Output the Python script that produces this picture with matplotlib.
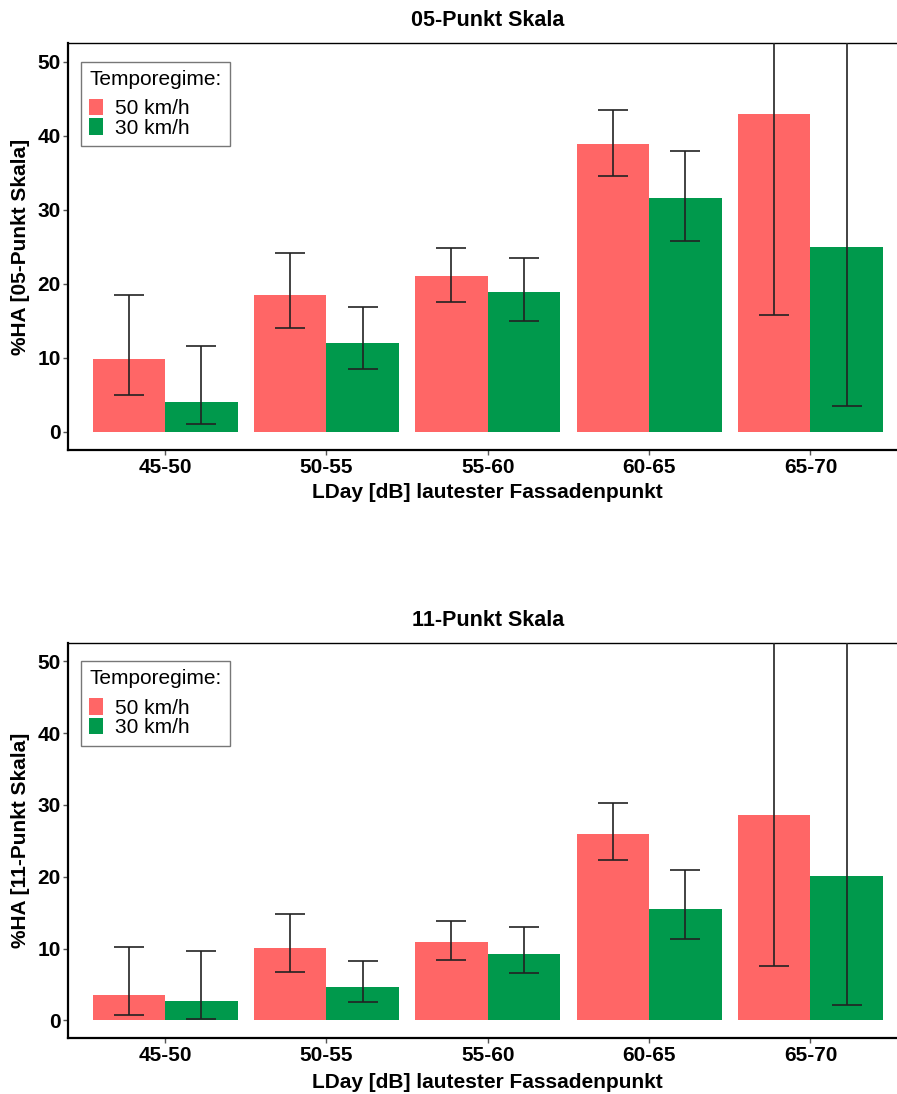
import numpy as np
import matplotlib
matplotlib.use("Agg")
import matplotlib.pyplot as plt
from matplotlib.patches import Patch

plt.rcParams['font.family'] = ['Liberation Sans', 'DejaVu Sans']

categories = ["45-50", "50-55", "55-60", "60-65", "65-70"]
series = ["50 km/h", "30 km/h"]
colors = ["#FF6666", "#00994C"]

# 05-Punkt Skala: value, lower, upper
ha05_50 = [9.8, 18.5, 21.0, 38.9, 42.9]
ha05_50_lo = [4.9, 14.0, 17.5, 34.6, 15.8]
ha05_50_hi = [18.4, 24.2, 24.8, 43.5, 75.0]
ha05_30 = [4.0, 12.0, 18.8, 31.6, 25.0]
ha05_30_lo = [1.0, 8.4, 14.9, 25.8, 3.5]
ha05_30_hi = [11.5, 16.8, 23.4, 38.0, 65.0]

# 11-Punkt Skala
ha11_50 = [3.5, 10.1, 10.9, 26.0, 28.6]
ha11_50_lo = [0.8, 6.8, 8.4, 22.3, 7.6]
ha11_50_hi = [10.2, 14.8, 13.9, 30.2, 70.0]
ha11_30 = [2.7, 4.7, 9.3, 15.5, 20.1]
ha11_30_lo = [0.25, 2.6, 6.6, 11.3, 2.1]
ha11_30_hi = [9.7, 8.3, 13.0, 21.0, 60.0]

W, H = 897, 1094
fig = plt.figure(figsize=(W / 100, H / 100), dpi=100)


def panel(rect, title, ylabel, vals, title_y, xlab_y):
    ax = fig.add_axes(rect)
    x = np.arange(1, len(categories) + 1)
    w = 0.45
    for i, (v, lo, hi) in enumerate(vals):
        v = np.array(v)
        pos = x + (i - 0.5) * w
        ax.bar(pos, v, width=w, color=colors[i], edgecolor='none', zorder=2)
        yerr = np.vstack([v - np.array(lo), np.array(hi) - v])
        ax.errorbar(pos, v, yerr=yerr, fmt='none', ecolor='#222222',
                    elinewidth=1.2, capsize=11, capthick=1.2, zorder=3)
    ax.set_xlim(0.4, 5.6)
    ax.set_ylim(-2.5, 52.5)
    ax.set_xticks(x)
    ax.set_xticklabels(categories)
    ax.set_yticks(range(0, 51, 10))
    for lab in ax.get_xticklabels() + ax.get_yticklabels():
        lab.set_fontweight('bold')
        lab.set_fontsize(15)
        lab.set_color('black')
    ax.tick_params(axis='both', length=3.5, width=1, color='#555555', pad=2)
    ax.spines['left'].set_linewidth(1.6)
    ax.spines['bottom'].set_linewidth(1.6)
    ax.spines['top'].set_linewidth(1.0)
    ax.spines['right'].set_linewidth(1.0)

    handles = [Patch(facecolor=c, edgecolor='none') for c in colors]
    leg = ax.legend(handles, series, title="Temporegime:", loc='upper left',
                    bbox_to_anchor=(0.015, 0.955), fontsize=15,
                    title_fontsize=15, frameon=True, fancybox=False,
                    edgecolor='#777777', framealpha=1, borderpad=0.4,
                    labelspacing=0.0, handlelength=0.65, handleheight=0.85,
                    handletextpad=0.6, borderaxespad=0)
    leg._legend_box.align = 'left'
    leg._legend_box.sep = 7
    leg.get_frame().set_linewidth(1.0)

    cx = rect[0] + rect[2] / 2
    fig.text(cx, title_y, title, ha='center', va='center',
             fontsize=15.5, fontweight='bold')
    fig.text(cx, xlab_y, "LDay [dB] lautester Fassadenpunkt", ha='center',
             va='center', fontsize=15, fontweight='bold')
    fig.text(21 / W, rect[1] + rect[3] / 2, ylabel, ha='center', va='center',
             rotation=90, fontsize=15, fontweight='bold')
    return ax


left = 68.3 / W
width = 839 / W
panel([left, 1 - 450 / H, width, 406.7 / H], "05-Punkt Skala",
      "%HA [05-Punkt Skala]",
      [(ha05_50, ha05_50_lo, ha05_50_hi), (ha05_30, ha05_30_lo, ha05_30_hi)],
      1 - 20 / H, 1 - 493 / H)
panel([left, 1 - 1038.3 / H, width, 395 / H], "11-Punkt Skala",
      "%HA [11-Punkt Skala]",
      [(ha11_50, ha11_50_lo, ha11_50_hi), (ha11_30, ha11_30_lo, ha11_30_hi)],
      1 - 621 / H, 1 - 1082 / H)

fig.savefig("out.png", dpi=100)
